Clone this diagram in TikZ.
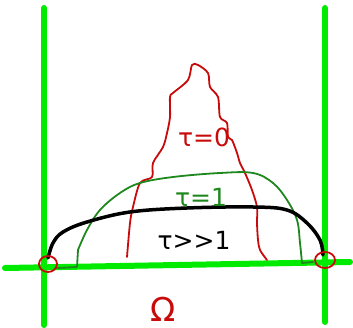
\documentclass[tikz,border=0pt]{standalone}
\usepackage{fontspec}
\setmainfont{DejaVu Sans}
\begin{document}
\begin{tikzpicture}[x=1pt,y=-1pt,line cap=round,line join=round,
  wall/.style={draw=gbright,line width=6pt},
  redc/.style={draw=hred,line width=1.8pt},
  greenc/.style={draw=hgreen,line width=1.8pt},
  blackc/.style={draw=black,line width=3.5pt},
  lab/.style={font=\fontsize{25}{27}\selectfont,inner sep=0pt}]
\definecolor{gbright}{RGB}{0,235,0}
\definecolor{hred}{RGB}{200,10,10}
\definecolor{hgreen}{RGB}{30,135,30}
\useasboundingbox (0,0) rectangle (353,328);
% walls
\draw[wall] (44,8) -- (44,325);
\draw[wall] (325,8) -- (325,322);
\draw[wall] (5,268) -- (350,262);
% tau = 0 (red)
\draw[redc] plot[smooth,tension=0.5] coordinates {(127,257) (130,223) (133,207) (140,183) (152,177) (153,163) (163,147) (167,133) (170,117) (170,97) (173,93) (188,80) (192,65) (198,65) (208,73) (210,87) (218,97) (220,117) (227,123) (228,137) (232,140) (237,153) (240,163) (245,173) (252,190) (257,207) (257,223) (258,240) (260,250) (267,260)};
% tau = 1 (green)
\draw[greenc] (57,268) -- (77,267) -- (78,250);
\draw[greenc] plot[smooth,tension=0.6] coordinates {(78,250) (87,230) (100,210) (120,193) (140,183) (173,177) (220,173) (253,173) (273,183) (287,200) (297,220) (300,243) (302,263)};
\draw[greenc] (302,263) -- (313,262);
% tau >> 1 (black)
\draw[blackc] plot[smooth,tension=0.6] coordinates {(48,258) (53,243) (63,232) (87,222) (130,212) (187,208) (253,207) (287,210) (307,223) (320,240) (323,255)};
% corner circles
\draw[redc] (48,264) ellipse [x radius=9,y radius=8];
\draw[redc] (325,260) ellipse [x radius=10,y radius=8];
% labels
\node[lab,text=hred] (t0) at (204,137) {τ=0};
\node[lab,text=hgreen] (t1) at (201,197) {τ=1};
\node[lab,text=black] (tb) at (194,240) {τ{>}{>}1};
\node[text=hred,font=\fontsize{33}{34}\selectfont,inner sep=0pt,anchor=base] (om) at (163,321) {Ω};
\end{tikzpicture}
\end{document}
